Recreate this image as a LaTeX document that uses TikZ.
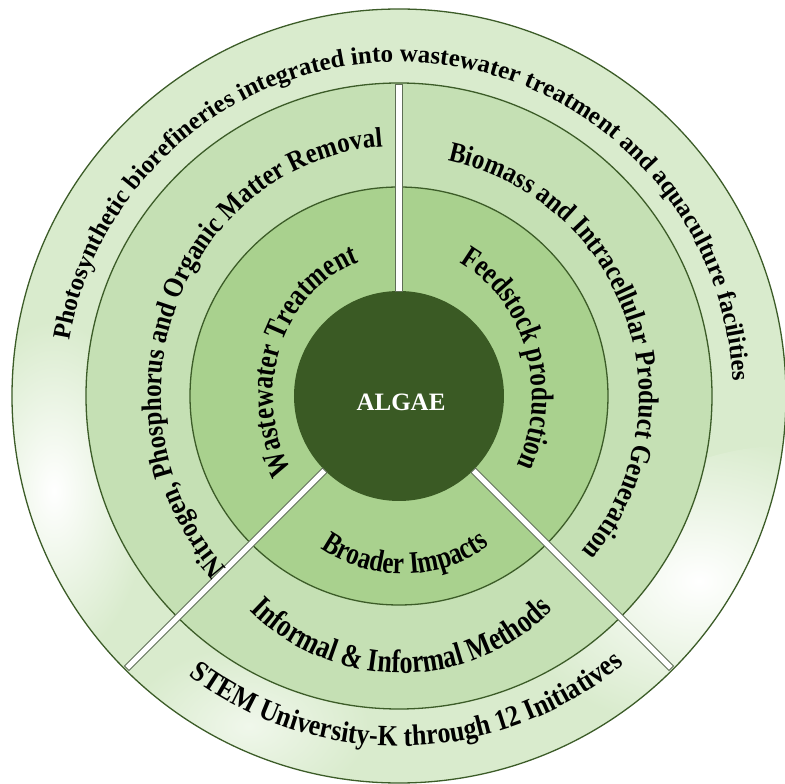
\documentclass[tikz,border=0pt]{standalone}
\usepackage{fontspec}
\setmainfont{Liberation Serif}
\newfontfamily\serifS[FakeStretch=0.88]{Liberation Serif}
\newfontfamily\serifT[FakeStretch=0.8]{Liberation Serif}
\usetikzlibrary{decorations.text}
\definecolor{ringA}{HTML}{D9EBCD}
\definecolor{ringB}{HTML}{C5E0B4}
\definecolor{ringC}{HTML}{A9D18E}
\definecolor{coreC}{HTML}{3A5A24}
\definecolor{edgeC}{HTML}{3C5C28}
\definecolor{barEdge}{HTML}{5E6E55}
\newcommand\arcfont{\bfseries\fontsize{25}{29}\selectfont}
\newcommand\arcfontS{\serifS\bfseries\fontsize{28.4}{32}\selectfont}
\newcommand\arcfontSS{\serifS\bfseries\fontsize{29.5}{33}\selectfont}
\newcommand\arcfontT{\serifT\bfseries\fontsize{31.2}{35}\selectfont}
\newcommand\arcfontTT{\serifT\bfseries\fontsize{32.5}{36}\selectfont}
\tikzset{
  ringline/.style={draw=edgeC, line width=1.3pt},
  barbox/.style={draw=barEdge, fill=white, line width=0.9pt},
  arctext/.style 2 args={decorate, decoration={text along path, text align=center, text={|#1|#2}}},
}
\begin{document}
\begin{tikzpicture}[x=1pt,y=1pt]
\useasboundingbox (-399,-388) rectangle (386,396);
% outer ring
\fill[ringA] (0,0) circle (387);
\begin{scope}
  \clip (0,0) circle (387);
  \shade[inner color=white, outer color=ringA] (-345,-95) ellipse [x radius=95, y radius=170];
  \shade[inner color=white, outer color=ringA, rotate around={-60:(300,-185)}] (300,-185) ellipse [x radius=110, y radius=190];
  \shade[inner color=white!60!ringA, outer color=ringA] (-150,-330) ellipse [x radius=120, y radius=80];
\end{scope}
\draw[ringline] (0,0) circle (387) node (outer) {};
% middle ring
\filldraw[ringline, fill=ringB] (0,0) circle (313) node (middle) {};
% inner ring
\filldraw[ringline, fill=ringC] (0,0) circle (209) node (inner) {};
% core
\fill[coreC] (0,0) circle (105);
\node[text=white, font=\bfseries\fontsize{25}{29}\selectfont] (algae) at (2,-6) {ALGAE};
% bars
\draw[barbox, rotate=90] (105,-3.2) rectangle (312,3.2);
\draw[barbox, rotate=225] (105,-3.2) rectangle (385,3.2);
\draw[barbox, rotate=315] (105,-3.2) rectangle (385,3.2);
% texts
\path[arctext={\arcfont}{Photosynthetic biorefineries integrated into wastewater treatment and aquaculture facilities}]
  (176.5:334) arc[start angle=176.5, end angle=-3.5, radius=334];
\path[arctext={\arcfontS}{Nitrogen, Phosphorus and Organic Matter Removal}]
  (248.5:238 and 250) arc[start angle=248.5, end angle=68.5, x radius=238, y radius=250];
\path[arctext={\arcfontS}{Biomass and Intracellular Product Generation}]
  (109:240) arc[start angle=109, end angle=-71, radius=240];
\path[arctext={\arcfontT}{Wastewater Treatment}]
  (249.5:126 and 141) arc[start angle=249.5, end angle=69.5, x radius=126, y radius=141];
\path[arctext={\arcfontT}{Feedstock production}]
  (108.7:133 and 150) arc[start angle=108.7, end angle=-71.3, x radius=133, y radius=150];
\path[arctext={\arcfontT}{Broader Impacts}]
  (4,-33) ++(211:145) arc[start angle=211, end angle=331, radius=145];
\path[arctext={\arcfontTT}{Informal {\&} Informal Methods}]
  (2,-63) ++(200:214) arc[start angle=200, end angle=340, radius=214];
\path[arctext={\arcfontSS}{STEM University-K through 12 Initiatives}]
  (201.5:350) arc[start angle=201.5, end angle=341.5, radius=350];
\end{tikzpicture}
\end{document}
